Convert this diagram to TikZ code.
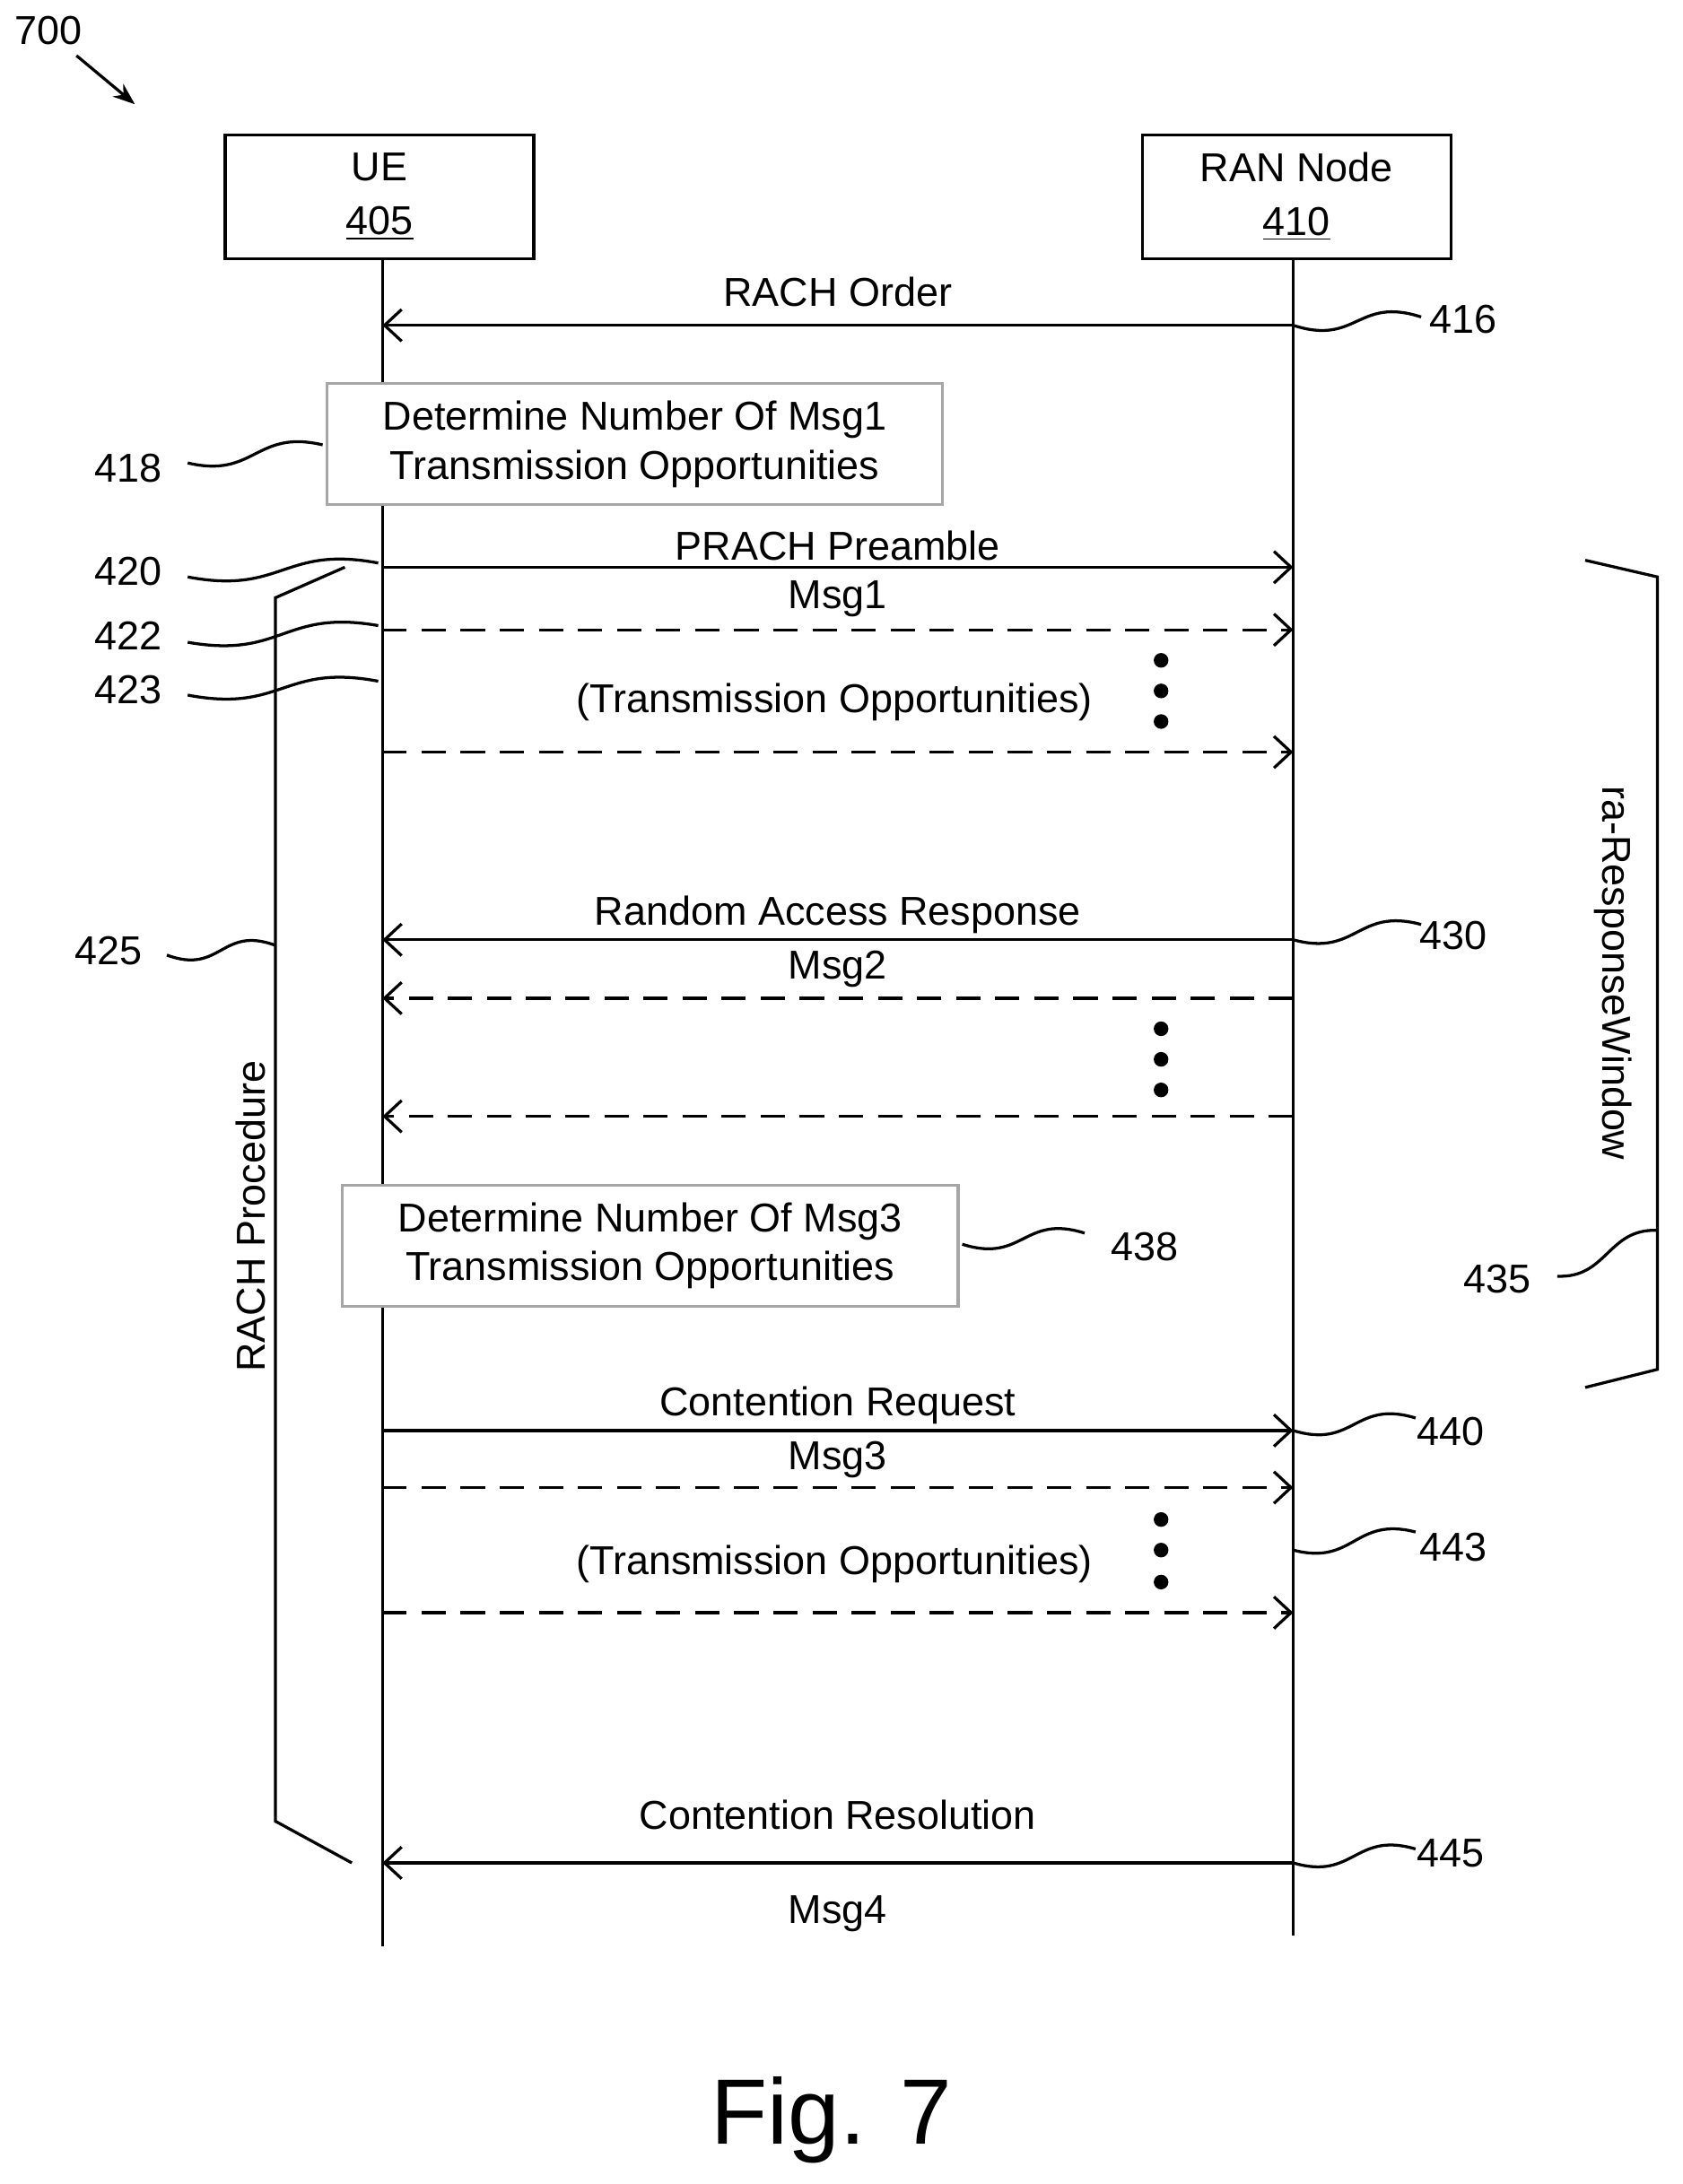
\documentclass[tikz,border=0pt]{standalone}
\usepackage{fontspec}
\setmainfont{Liberation Sans}
\usetikzlibrary{calc,arrows.meta}
\tikzset{
  ent/.style = {draw, line width=1.3pt, minimum width=4.44cm, minimum height=1.78cm, align=center, inner sep=0pt},
  act/.style = {draw=gray!70, minimum width=8.86cm, minimum height=1.74cm, align=center, inner sep=0pt},
  msg/.style = {line width=1.2pt, -{Straight Barb[length=7pt,width=13pt]}},
  opp/.style = {msg, dash pattern=on 10pt off 6pt},
  lbl/.style = {inner sep=1pt},
  dot/.style = {circle, fill, inner sep=0pt, minimum size=6pt},
}
\newcommand{\squig}[3][18]{\draw[line width=1.2pt] (#2) .. controls ($(#2)!0.5!(#3)+(0,#1)$) and ($(#2)!0.5!(#3)+(0,-#1)$) .. (#3);}
\begin{document}
\fontsize{16.5}{20}\selectfont
\begin{tikzpicture}[x=0.02cm, y=-0.02cm, line width=1.2pt]
  \useasboundingbox (0,0) rectangle (1210,1571);

  \node[lbl] (fig) at (35,22) {700};
  \coordinate (fa) at (55,40); \coordinate (fb) at (97,75);
  \draw[-{Stealth[length=9pt]}] (fa) -- (fb);

  % entities
  \node[ent] (ue) at (273,141.5) {UE\\[2pt]\underline{405}};
  \node[ent] (ran) at (932.5,141.5) {RAN Node\\[2pt]\underline{410}};
  \coordinate (ueend) at (275,1400);
  \coordinate (ranend) at (930,1392);
  \draw (ue.south -| ueend) -- (ueend);
  \draw (ran.south -| ranend) -- (ranend);

  % messages
  \foreach \n/\y in {a/234,b/408,c/453,d/541,e/676,f/718,g/803,h/1029,i/1070,j/1160,k/1340}{
    \coordinate (u\n) at (275,\y);
    \coordinate (r\n) at (930,\y);
  }
  \draw[msg] (ra) -- node[lbl,above=6pt] {RACH Order} (ua);
  \draw[msg] (ub) -- node[lbl,above=1pt] {PRACH Preamble} node[lbl,below=4pt] {Msg1} (rb);
  \draw[opp] (uc) -- (rc);
  \draw[opp] (ud) -- (rd);
  \draw[msg] (re) -- node[lbl,above=1pt] {Random Access Response} node[lbl,below=3pt] {Msg2} (ue);
  \draw[opp] (rf) -- (uf);
  \draw[opp] (rg) -- (ug);
  \draw[msg] (uh) -- node[lbl,above=1pt] {Contention Request} node[lbl,below=3pt] {Msg3} (rh);
  \draw[opp] (ui) -- (ri);
  \draw[opp] (uj) -- (rj);
  \draw[msg] (rk) -- node[lbl,above=12pt] {Contention Resolution} node[lbl,below=12pt] {Msg4} (uk);

  \node[lbl] (to1) at (600,505) {(Transmission Opportunities)};
  \node[lbl] (to2) at (600,1125) {(Transmission Opportunities)};
  \foreach \y in {475,497,519,740,762,784,1093,1115,1138}
    \node[dot] at (835,\y) {};

  % steps
  \node[act, fill=white] (s418) at (456.5,319.5) {Determine Number Of Msg1\\Transmission Opportunities};
  \node[act, fill=white] (s438) at (467.5,896) {Determine Number Of Msg3\\Transmission Opportunities};

  % brackets
  \coordinate (la) at (248,408); \coordinate (lb) at (198,430);
  \coordinate (lc) at (198,1310); \coordinate (ld) at (253,1340);
  \draw (la) -- (lb) -- (lc) -- (ld);
  \node[lbl, rotate=90] (rach) at (180,875) {RACH Procedure};
  \coordinate (ba) at (1140,403); \coordinate (bb) at (1192,415);
  \coordinate (bc) at (1192,985); \coordinate (bd) at (1140,998);
  \draw (ba) -- (bb) -- (bc) -- (bd);
  \node[lbl, rotate=-90] (raw) at (1160,700) {ra-ResponseWindow};

  % reference numerals
  \node[lbl] (n416) at (1052,230) {416};
  \node[lbl] (n418) at (92,337) {418};
  \node[lbl] (n420) at (92,411) {420};
  \node[lbl] (n422) at (92,457) {422};
  \node[lbl] (n423) at (92,496) {423};
  \node[lbl] (n425) at (78,684) {425};
  \node[lbl] (n430) at (1045,673) {430};
  \node[lbl] (n435) at (1077,920) {435};
  \node[lbl] (n438) at (823,897) {438};
  \node[lbl] (n440) at (1043,1030) {440};
  \node[lbl] (n443) at (1045,1113) {443};
  \node[lbl] (n445) at (1043,1333) {445};
  \coordinate (w416) at (1022,228); \squig{ra}{w416}
  \coordinate (w418) at (135,333); \coordinate (x418) at (232,320); \squig{w418}{x418}
  \coordinate (w420) at (135,415); \coordinate (x420) at (272,405); \squig{w420}{x420}
  \coordinate (w422) at (135,462); \coordinate (x422) at (272,450); \squig{w422}{x422}
  \coordinate (w423) at (135,500); \coordinate (x423) at (272,490); \squig{w423}{x423}
  \coordinate (w425) at (120,687); \coordinate (x425) at (198,680); \squig{w425}{x425}
  \coordinate (w430) at (1022,665); \squig{re}{w430}
  \coordinate (w435) at (1120,918); \coordinate (x435) at (1192,885); \squig{w435}{x435}
  \coordinate (w438) at (692,895); \coordinate (x438) at (780,887); \squig{w438}{x438}
  \coordinate (w440) at (1018,1020); \squig{rh}{w440}
  \coordinate (r443) at (930,1115); \coordinate (w443) at (1018,1102); \squig{r443}{w443}
  \coordinate (w445) at (1018,1330); \squig{rk}{w445}

  \node[lbl, font=\fontsize{38}{42}\selectfont] (cap) at (598,1525) {Fig. 7};
\end{tikzpicture}
\end{document}
